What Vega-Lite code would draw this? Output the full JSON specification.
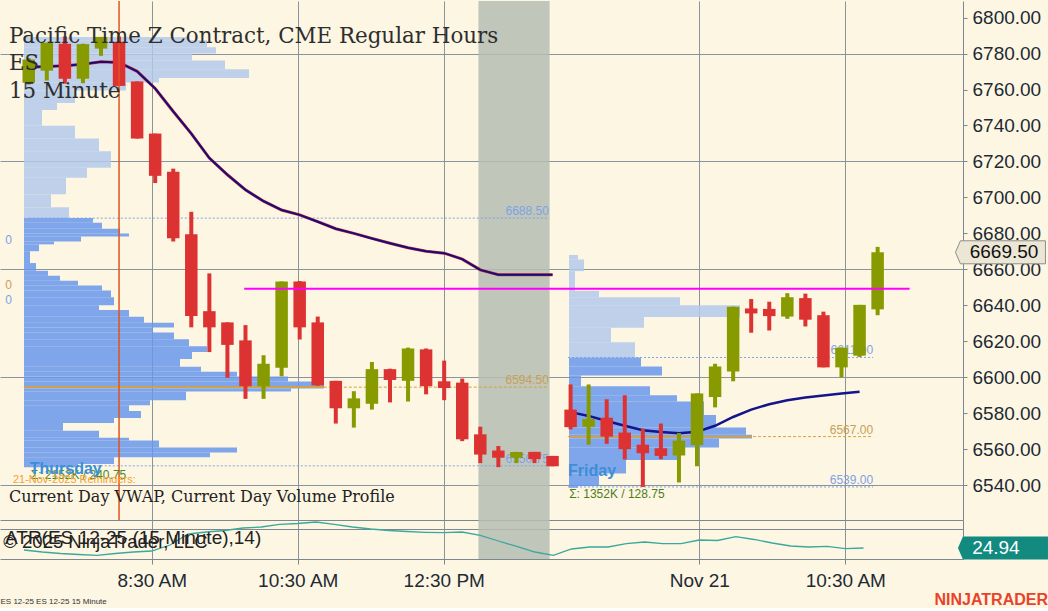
{
"$schema": "https://vega.github.io/schema/vega-lite/v6.json",
"background": "#fdf6e3",
"padding": 0,
"spacing": 0,
"bounds": "flush",
"config": {"view": {"stroke": null}, "font": "Liberation Sans", "axis": {"labelFont": "Liberation Sans", "titleFont": "Liberation Sans"}},
"title": {"text": "NINJATRADER", "orient": "bottom", "anchor": "end", "frame": "bounds", "color": "#e8432a", "fontSize": 16, "fontWeight": "bold", "font": "Liberation Sans", "offset": -13},
"datasets": {
"shade": [{"from": 24.9, "to": 28.8}],
"bars": [
{"i":0,"o":6763.75,"h":6777.5,"l":6762.75,"c":6776.75},
{"i":1,"o":6770.5,"h":6786,"l":6765,"c":6786},
{"i":2,"o":6785.5,"h":6789.5,"l":6763.25,"c":6766},
{"i":3,"o":6766,"h":6785.5,"l":6763.5,"c":6785.25},
{"i":4,"o":6782.75,"h":6789.25,"l":6778.75,"c":6789.25},
{"i":5,"o":6786.5,"h":6789.5,"l":6762,"c":6762},
{"i":6,"o":6764.5,"h":6764.5,"l":6732.75,"c":6732.75},
{"i":7,"o":6735.5,"h":6735.5,"l":6708,"c":6712},
{"i":8,"o":6714.25,"h":6716,"l":6675.5,"c":6677.25},
{"i":9,"o":6679.5,"h":6692,"l":6627.75,"c":6634},
{"i":10,"o":6636.75,"h":6657.75,"l":6614,"c":6627.75},
{"i":11,"o":6630.5,"h":6630.5,"l":6599.75,"c":6618},
{"i":12,"o":6620.5,"h":6629,"l":6588,"c":6595},
{"i":13,"o":6595,"h":6612.25,"l":6588,"c":6607.5},
{"i":14,"o":6605.25,"h":6653.25,"l":6600.5,"c":6653.25},
{"i":15,"o":6653.25,"h":6653.5,"l":6621,"c":6627.75},
{"i":16,"o":6630.5,"h":6633.75,"l":6595.25,"c":6595.5},
{"i":17,"o":6598,"h":6598,"l":6574.25,"c":6582.75},
{"i":18,"o":6582.75,"h":6592.25,"l":6572,"c":6588.25},
{"i":19,"o":6585.25,"h":6608.5,"l":6582,"c":6604.5},
{"i":20,"o":6604.5,"h":6604.75,"l":6586,"c":6598.5},
{"i":21,"o":6598,"h":6616.5,"l":6586.5,"c":6616},
{"i":22,"o":6615.5,"h":6616,"l":6590.5,"c":6595},
{"i":23,"o":6597.75,"h":6609.25,"l":6587.25,"c":6594},
{"i":24,"o":6597,"h":6599.25,"l":6564.5,"c":6565.5},
{"i":25,"o":6568.25,"h":6572.5,"l":6552.25,"c":6557},
{"i":26,"o":6559.25,"h":6561.75,"l":6550,"c":6555.25},
{"i":27,"o":6555.25,"h":6558.5,"l":6552.25,"c":6558.5},
{"i":28,"o":6558.5,"h":6558.5,"l":6552.25,"c":6554.5},
{"i":29,"o":6556.25,"h":6556.25,"l":6550.5,"c":6550.5},
{"i":30,"o":6582,"h":6596,"l":6571,"c":6572.25},
{"i":31,"o":6572.5,"h":6596,"l":6562.5,"c":6576.75},
{"i":32,"o":6577.5,"h":6587.75,"l":6563,"c":6567},
{"i":33,"o":6569.25,"h":6590,"l":6554.25,"c":6560},
{"i":34,"o":6562.5,"h":6571.5,"l":6539,"c":6557.75},
{"i":35,"o":6560.5,"h":6574.25,"l":6554.5,"c":6556.25},
{"i":36,"o":6556.5,"h":6569,"l":6541.5,"c":6564.75},
{"i":37,"o":6562.25,"h":6591,"l":6550.5,"c":6591},
{"i":38,"o":6589,"h":6607.5,"l":6583.25,"c":6606},
{"i":39,"o":6603.25,"h":6639.25,"l":6597.75,"c":6639.25},
{"i":40,"o":6638.25,"h":6643.5,"l":6624.75,"c":6635.5},
{"i":41,"o":6638,"h":6642,"l":6626,"c":6634},
{"i":42,"o":6633.75,"h":6646.75,"l":6632.5,"c":6644.5},
{"i":43,"o":6644,"h":6646.5,"l":6628.25,"c":6632},
{"i":44,"o":6634.5,"h":6636.5,"l":6605.5,"c":6605.5},
{"i":45,"o":6605.5,"h":6616.5,"l":6600,"c":6616.5},
{"i":46,"o":6612,"h":6640.25,"l":6611.25,"c":6640.25},
{"i":47,"o":6637.75,"h":6672.5,"l":6634.5,"c":6669.5}
],
"vwapThu": [
{"i":0,"v":6772.4},{"i":1,"v":6772.8},{"i":2,"v":6773.2},{"i":3,"v":6774},{"i":4,"v":6775.4},{"i":5,"v":6775.1},
{"i":6,"v":6770.1},{"i":7,"v":6760.6},{"i":8,"v":6747.8},{"i":9,"v":6735.5},{"i":10,"v":6721.9},{"i":11,"v":6712.6},
{"i":12,"v":6704.2},{"i":13,"v":6697.9},{"i":14,"v":6693},{"i":15,"v":6690.3},{"i":16,"v":6686.5},{"i":17,"v":6682.6},
{"i":18,"v":6680},{"i":19,"v":6677.2},{"i":20,"v":6674.5},{"i":21,"v":6672},{"i":22,"v":6670.1},{"i":23,"v":6669},
{"i":24,"v":6665.7},{"i":25,"v":6659.7},{"i":26,"v":6657},{"i":27,"v":6657},{"i":28,"v":6657},{"i":29,"v":6657}
],
"vwapFri": [
{"i":30,"v":6580.6},{"i":31,"v":6578.5},{"i":32,"v":6575.7},{"i":33,"v":6573},{"i":34,"v":6570.5},{"i":35,"v":6569.5},
{"i":36,"v":6568.9},{"i":37,"v":6569.7},{"i":38,"v":6573},{"i":39,"v":6577.9},{"i":40,"v":6582},{"i":41,"v":6585},
{"i":42,"v":6587.2},{"i":43,"v":6588.8},{"i":44,"v":6589.9},{"i":45,"v":6591},{"i":46,"v":6591.9}
],
"profThu": [
{"lo":6787.4,"hi":6789.2,"v":55,"zone":"out"},{"lo":6783.5,"hi":6787.4,"v":61,"zone":"out"},{"lo":6780,"hi":6783.5,"v":64,"zone":"out"},
{"lo":6776.2,"hi":6780,"v":56,"zone":"out"},{"lo":6771.3,"hi":6776.2,"v":67,"zone":"out"},{"lo":6766.4,"hi":6771.3,"v":75,"zone":"out"},
{"lo":6763.9,"hi":6766.4,"v":45,"zone":"out"},{"lo":6759.5,"hi":6763.9,"v":34,"zone":"out"},{"lo":6752.5,"hi":6759.5,"v":17,"zone":"out"},
{"lo":6748.6,"hi":6752.5,"v":11,"zone":"out"},{"lo":6739.9,"hi":6748.6,"v":6,"zone":"out"},{"lo":6732.8,"hi":6739.9,"v":17,"zone":"out"},
{"lo":6725.7,"hi":6732.8,"v":25,"zone":"out"},{"lo":6716.5,"hi":6725.7,"v":29,"zone":"out"},{"lo":6711,"hi":6716.5,"v":21,"zone":"out"},
{"lo":6701.7,"hi":6711,"v":14,"zone":"out"},{"lo":6694.6,"hi":6701.7,"v":9,"zone":"out"},{"lo":6688.6,"hi":6694.6,"v":15,"zone":"out"},
{"lo":6685.9,"hi":6688.6,"v":23,"zone":"va"},{"lo":6682.6,"hi":6685.9,"v":26,"zone":"va"},{"lo":6679.9,"hi":6682.6,"v":32,"zone":"va"},
{"lo":6678.3,"hi":6679.9,"v":35,"zone":"va"},{"lo":6675.5,"hi":6678.3,"v":19,"zone":"va"},{"lo":6673.9,"hi":6675.5,"v":10,"zone":"va"},
{"lo":6670.1,"hi":6673.9,"v":5,"zone":"va"},{"lo":6663.5,"hi":6670.1,"v":2,"zone":"va"},{"lo":6659.2,"hi":6663.5,"v":4,"zone":"va"},
{"lo":6656.4,"hi":6659.2,"v":8,"zone":"va"},{"lo":6653.7,"hi":6656.4,"v":12,"zone":"va"},{"lo":6651,"hi":6653.7,"v":18,"zone":"va"},
{"lo":6648.3,"hi":6651,"v":26,"zone":"va"},{"lo":6644.5,"hi":6648.3,"v":29,"zone":"va"},{"lo":6640.1,"hi":6644.5,"v":30,"zone":"va"},
{"lo":6637.4,"hi":6640.1,"v":25,"zone":"va"},{"lo":6633.6,"hi":6637.4,"v":35,"zone":"va"},{"lo":6630.3,"hi":6633.6,"v":40,"zone":"va"},
{"lo":6627.6,"hi":6630.3,"v":50,"zone":"va"},{"lo":6624.9,"hi":6627.6,"v":43,"zone":"va"},{"lo":6621.1,"hi":6624.9,"v":50,"zone":"va"},
{"lo":6617.3,"hi":6621.1,"v":55,"zone":"va"},{"lo":6614,"hi":6617.3,"v":61,"zone":"va"},{"lo":6610.2,"hi":6614,"v":56,"zone":"va"},
{"lo":6605.8,"hi":6610.2,"v":52,"zone":"va"},{"lo":6603.1,"hi":6605.8,"v":59,"zone":"va"},{"lo":6600.4,"hi":6603.1,"v":71,"zone":"va"},
{"lo":6597.6,"hi":6600.4,"v":88,"zone":"va"},{"lo":6593.7,"hi":6597.6,"v":100,"zone":"va"},{"lo":6592.1,"hi":6593.7,"v":89,"zone":"va"},
{"lo":6587.2,"hi":6592.1,"v":54,"zone":"va"},{"lo":6584.5,"hi":6587.2,"v":42,"zone":"va"},{"lo":6581.2,"hi":6584.5,"v":35,"zone":"va"},
{"lo":6577.4,"hi":6581.2,"v":39,"zone":"va"},{"lo":6574.6,"hi":6577.4,"v":30,"zone":"va"},{"lo":6570.3,"hi":6574.6,"v":13,"zone":"va"},
{"lo":6566.4,"hi":6570.3,"v":25,"zone":"va"},{"lo":6564.8,"hi":6566.4,"v":35,"zone":"va"},{"lo":6561,"hi":6564.8,"v":45,"zone":"va"},
{"lo":6558.2,"hi":6561,"v":71,"zone":"va"},{"lo":6555.5,"hi":6558.2,"v":62,"zone":"va"},{"lo":6551.7,"hi":6555.5,"v":30,"zone":"va"},
{"lo":6550,"hi":6551.7,"v":18,"zone":"va"}
],
"profFri": [
{"lo":6665.5,"hi":6668,"v":3,"zone":"out"},{"lo":6659,"hi":6665.5,"v":5,"zone":"out"},{"lo":6648,"hi":6659,"v":2,"zone":"out"},
{"lo":6644.5,"hi":6648,"v":10,"zone":"out"},{"lo":6640,"hi":6644.5,"v":37,"zone":"out"},{"lo":6633.5,"hi":6640,"v":57,"zone":"out"},
{"lo":6627.5,"hi":6633.5,"v":25,"zone":"out"},{"lo":6619.5,"hi":6627.5,"v":14,"zone":"out"},{"lo":6611,"hi":6619.5,"v":22,"zone":"out"},
{"lo":6606,"hi":6611,"v":24,"zone":"va"},{"lo":6601,"hi":6606,"v":31,"zone":"va"},{"lo":6595,"hi":6601,"v":4,"zone":"va"},
{"lo":6590,"hi":6595,"v":27,"zone":"va"},{"lo":6586.5,"hi":6590,"v":36,"zone":"va"},{"lo":6579,"hi":6586.5,"v":45,"zone":"va"},
{"lo":6572,"hi":6579,"v":49,"zone":"va"},{"lo":6568,"hi":6572,"v":59,"zone":"va"},{"lo":6566,"hi":6568,"v":61,"zone":"va"},
{"lo":6561,"hi":6566,"v":50,"zone":"va"},{"lo":6554,"hi":6561,"v":37,"zone":"va"},{"lo":6546.5,"hi":6554,"v":19,"zone":"va"},
{"lo":6539.5,"hi":6546.5,"v":10,"zone":"va"},{"lo":6538.5,"hi":6539.5,"v":3,"zone":"va"}
],
"levels": [
{"kind":"va","p":6688.5,"from":0,"to":28.8,"label":"6688.50"},
{"kind":"poc","p":6594.5,"from":0,"to":28.8,"label":"6594.50"},
{"kind":"va","p":6550.75,"from":0,"to":28.8,"label":"6550.75"},
{"kind":"va","p":6611,"from":29.86,"to":46.75,"label":"6611.00"},
{"kind":"poc","p":6567,"from":29.86,"to":46.75,"label":"6567.00"},
{"kind":"va","p":6539,"from":29.86,"to":46.75,"label":"6539.00"}
],
"atr": [
{"i":0,"a":24.24},{"i":1,"a":23.54},{"i":2,"a":23.02},{"i":3,"a":22.67},{"i":4,"a":22.39},{"i":5,"a":23.02},
{"i":6,"a":23.54},{"i":7,"a":23.89},{"i":8,"a":25.99},{"i":9,"a":29.84},{"i":10,"a":30.54},{"i":11,"a":31.07},
{"i":12,"a":31.94},{"i":13,"a":32.29},{"i":14,"a":33.24},{"i":15,"a":33.52},{"i":16,"a":34.04},{"i":17,"a":33.24},
{"i":18,"a":32.29},{"i":19,"a":31.59},{"i":20,"a":31.07},{"i":21,"a":30.72},{"i":22,"a":30.44},{"i":23,"a":30.3},
{"i":24,"a":30.54},{"i":25,"a":29.39},{"i":26,"a":27.39},{"i":27,"a":25.47},{"i":28,"a":23.54},{"i":29,"a":22.39},
{"i":30,"a":24.59},{"i":31,"a":25.29},{"i":32,"a":25.29},{"i":33,"a":26.45},{"i":34,"a":27.04},{"i":35,"a":26.45},
{"i":36,"a":26.45},{"i":37,"a":27.74},{"i":38,"a":27.57},{"i":39,"a":28.9},{"i":40,"a":27.92},{"i":41,"a":26.69},
{"i":42,"a":25.64},{"i":43,"a":25.29},{"i":44,"a":25.54},{"i":45,"a":24.7},{"i":46,"a":24.94}
]
},
"vconcat": [
{
"width": 963, "height": 519,
"resolve": {"scale": {"x": "independent"}},
"layer": [
{"data": {"name": "shade"},
 "mark": {"type": "rect", "color": "#b5bdb3", "opacity": 0.85},
 "encoding": {
  "x": {"field": "from", "type": "quantitative", "scale": {"domain": [-1.315, 51.45], "nice": false, "zero": false},
        "axis": {"values": [7,15,23,37,45], "tickCount": 20, "labels": false, "ticks": false, "domain": true, "domainColor": "#7d8790", "grid": true, "gridColor": "#8a949c", "gridWidth": 1, "title": null}},
  "x2": {"field": "to"}}},
{"layer": [
 {"data": {"name": "profThu"}, "mark": {"type": "bar", "orient": "horizontal", "opacity": 0.85},
  "encoding": {
   "x": {"field": "v", "type": "quantitative", "scale": {"domain": [-8, 313], "nice": false}, "axis": null},
   "y": {"field": "lo", "type": "quantitative", "scale": {"domain": [6523.4, 6806.45], "nice": false, "zero": false}, "title": null,
         "axis": {"orient": "right", "values": [6540,6560,6580,6600,6620,6640,6660,6680,6700,6720,6740,6760,6780,6800], "tickCount": 30, "format": ".2f", "labelOverlap": false,
                  "labelFontSize": 19, "labelColor": "#1e2a33", "tickSize": 4, "tickColor": "#7d8790", "domainColor": "#7d8790", "labelPadding": 5,
                  "grid": true, "gridColor": "#8a949c", "gridOpacity": {"condition": {"test": "datum.value % 60 === 0", "value": 1}, "value": 0}, "title": null}},
   "y2": {"field": "hi"},
   "color": {"condition": {"test": "datum.zone === 'va'", "value": "#6998eb"}, "value": "#b3c9eb"}}},
 {"data": {"values": [{"lo": 6594, "hi": 6595, "v": 100}]}, "mark": {"type": "bar", "orient": "horizontal", "color": "#d9a23a"},
  "encoding": {"x": {"field": "v", "type": "quantitative", "axis": null}, "y": {"field": "lo", "type": "quantitative", "title": null}, "y2": {"field": "hi"}}}
]},
{"layer": [
 {"data": {"name": "profFri"}, "mark": {"type": "bar", "orient": "horizontal", "opacity": 0.85},
  "encoding": {
   "x": {"field": "v", "type": "quantitative", "scale": {"domain": [-189.67, 131.33], "nice": false}, "axis": null},
   "y": {"field": "lo", "type": "quantitative", "title": null},
   "y2": {"field": "hi"},
   "color": {"condition": {"test": "datum.zone === 'va'", "value": "#6998eb"}, "value": "#b3c9eb"}}},
 {"data": {"values": [{"lo": 6566.5, "hi": 6567.5, "v": 61}]}, "mark": {"type": "bar", "orient": "horizontal", "color": "#d9a23a"},
  "encoding": {"x": {"field": "v", "type": "quantitative", "axis": null}, "y": {"field": "lo", "type": "quantitative", "title": null}, "y2": {"field": "hi"}}}
]},
{"layer": [
 {"data": {"name": "levels"}, "transform": [{"filter": "datum.kind === 'va'"}],
  "mark": {"type": "rule", "color": "#7da2e6", "strokeWidth": 1, "strokeDash": [2, 2]},
  "encoding": {"x": {"field": "from", "type": "quantitative", "scale": {"domain": [-1.315, 51.45], "nice": false, "zero": false}, "axis": null}, "x2": {"field": "to"}, "y": {"field": "p", "type": "quantitative", "title": null}}},
 {"data": {"name": "levels"}, "transform": [{"filter": "datum.kind === 'poc'"}],
  "mark": {"type": "rule", "color": "#d4a040", "strokeWidth": 1, "strokeDash": [3, 2]},
  "encoding": {"x": {"field": "from", "type": "quantitative", "axis": null}, "x2": {"field": "to"}, "y": {"field": "p", "type": "quantitative", "title": null}}},
 {"data": {"name": "levels"},
  "mark": {"type": "text", "align": "right", "baseline": "alphabetic", "dy": -3, "fontSize": 12},
  "encoding": {"x": {"field": "to", "type": "quantitative", "axis": null}, "y": {"field": "p", "type": "quantitative", "title": null}, "text": {"field": "label", "type": "nominal"},
   "color": {"condition": {"test": "datum.kind === 'poc'", "value": "#c9a055"}, "value": "#7da2e6"}}},
 {"data": {"name": "vwapThu"}, "mark": {"type": "line", "color": "#d83030", "strokeWidth": 3},
  "encoding": {"x": {"field": "i", "type": "quantitative", "axis": null}, "y": {"field": "v", "type": "quantitative", "title": null}}},
 {"data": {"name": "vwapThu"}, "mark": {"type": "line", "color": "#0f0f80", "strokeWidth": 2},
  "encoding": {"x": {"field": "i", "type": "quantitative", "axis": null}, "y": {"field": "v", "type": "quantitative", "title": null}}},
 {"data": {"name": "vwapFri"}, "mark": {"type": "line", "color": "#14148c", "strokeWidth": 2.5},
  "encoding": {"x": {"field": "i", "type": "quantitative", "axis": null}, "y": {"field": "v", "type": "quantitative", "title": null}}},
 {"data": {"name": "bars"}, "mark": {"type": "rule", "strokeWidth": 4},
  "encoding": {"x": {"field": "i", "type": "quantitative", "axis": null}, "y": {"field": "l", "type": "quantitative", "title": null}, "y2": {"field": "h"},
   "color": {"condition": {"test": "datum.c >= datum.o", "value": "#879a00"}, "value": "#dd3232"}}},
 {"data": {"name": "bars"}, "mark": {"type": "bar", "width": 12.5, "orient": "vertical"},
  "encoding": {"x": {"field": "i", "type": "quantitative", "axis": null}, "y": {"field": "o", "type": "quantitative", "title": null}, "y2": {"field": "c"},
   "color": {"condition": {"test": "datum.c >= datum.o", "value": "#879a00"}, "value": "#dd3232"}}},
 {"data": {"values": [{"p": 6649.25, "from": 11.93, "to": 48.77}]}, "mark": {"type": "rule", "color": "#ff00ff", "strokeWidth": 2},
  "encoding": {"x": {"field": "from", "type": "quantitative", "axis": null}, "x2": {"field": "to"}, "y": {"field": "p", "type": "quantitative", "title": null}}},
 {"data": {"values": [{"i": 5}]}, "mark": {"type": "rule", "color": "#e0541e", "strokeWidth": 1.5},
  "encoding": {"x": {"field": "i", "type": "quantitative", "axis": null}}},
 {"data": {"values": [{}]}, "mark": {"type": "point", "shape": "M -1 0 L -0.889 -0.2556 L 1 -0.2556 L 1 0.2556 L -0.889 0.2556 Z", "size": 8100, "filled": true, "fill": "#ece6d5", "stroke": "#8e8e8e", "strokeWidth": 1, "opacity": 1},
  "encoding": {"x": {"datum": 53.8, "type": "quantitative", "axis": null}, "y": {"datum": 6669.5, "type": "quantitative", "title": null}}},
 {"data": {"values": [{}]}, "mark": {"type": "text", "text": "6669.50", "align": "left", "baseline": "middle", "fontSize": 19, "color": "#111111"},
  "encoding": {"x": {"datum": 52.1, "type": "quantitative", "axis": null}, "y": {"datum": 6669.5, "type": "quantitative", "title": null}}},
 {"data": {"values": [{}]}, "mark": {"type": "text", "text": "0", "align": "right", "baseline": "middle", "fontSize": 12, "color": "#7da2e6"},
  "encoding": {"x": {"datum": -0.93, "type": "quantitative", "axis": null}, "y": {"datum": 6676.1, "type": "quantitative", "title": null}}},
 {"data": {"values": [{}]}, "mark": {"type": "text", "text": "0", "align": "right", "baseline": "middle", "fontSize": 12, "color": "#c9a055"},
  "encoding": {"x": {"datum": -0.93, "type": "quantitative", "axis": null}, "y": {"datum": 6651.55, "type": "quantitative", "title": null}}},
 {"data": {"values": [{}]}, "mark": {"type": "text", "text": "0", "align": "right", "baseline": "middle", "fontSize": 12, "color": "#7da2e6"},
  "encoding": {"x": {"datum": -0.93, "type": "quantitative", "axis": null}, "y": {"datum": 6642.8, "type": "quantitative", "title": null}}},
 {"data": {"values": [{}]}, "mark": {"type": "text", "text": "Σ: 2152K / 240.75", "align": "left", "baseline": "alphabetic", "fontSize": 12, "color": "#4a8a2a"},
  "encoding": {"x": {"datum": 0.11, "type": "quantitative", "axis": null}, "y": {"datum": 6543.5, "type": "quantitative", "title": null}}},
 {"data": {"values": [{}]}, "mark": {"type": "text", "text": "21-Nov-2025 Reminders:", "align": "left", "baseline": "alphabetic", "fontSize": 11, "color": "#f5a02a"},
  "encoding": {"x": {"datum": -0.877, "type": "quantitative", "axis": null}, "y": {"datum": 6541.4, "type": "quantitative", "title": null}}},
 {"data": {"values": [{}]}, "mark": {"type": "text", "text": "Thursday", "align": "left", "baseline": "alphabetic", "fontSize": 16, "fontWeight": "bold", "color": "#3a8fd8"},
  "encoding": {"x": {"datum": 0.055, "type": "quantitative", "axis": null}, "y": {"datum": 6546.3, "type": "quantitative", "title": null}}},
 {"data": {"values": [{}]}, "mark": {"type": "text", "text": "Friday", "align": "left", "baseline": "alphabetic", "fontSize": 16, "fontWeight": "bold", "color": "#3a8fd8"},
  "encoding": {"x": {"datum": 29.86, "type": "quantitative", "axis": null}, "y": {"datum": 6545.2, "type": "quantitative", "title": null}}},
 {"data": {"values": [{}]}, "mark": {"type": "text", "text": "Σ: 1352K / 128.75", "align": "left", "baseline": "alphabetic", "fontSize": 12, "color": "#4d7d1c"},
  "encoding": {"x": {"datum": 29.92, "type": "quantitative", "axis": null}, "y": {"datum": 6532.6, "type": "quantitative", "title": null}}},
 {"data": {"values": [{}]}, "mark": {"type": "text", "text": "Pacific Time Z Contract, CME Regular Hours", "align": "left", "baseline": "alphabetic", "fontSize": 21.4, "font": "DejaVu Serif", "color": "#2e2e2e"},
  "encoding": {"x": {"datum": -1.1, "type": "quantitative", "axis": null}, "y": {"datum": 6785.9, "type": "quantitative", "title": null}}},
 {"data": {"values": [{}]}, "mark": {"type": "text", "text": "ES", "align": "left", "baseline": "alphabetic", "fontSize": 21.4, "font": "DejaVu Serif", "color": "#2e2e2e"},
  "encoding": {"x": {"datum": -1.1, "type": "quantitative", "axis": null}, "y": {"datum": 6770.6, "type": "quantitative", "title": null}}},
 {"data": {"values": [{}]}, "mark": {"type": "text", "text": "15 Minute", "align": "left", "baseline": "alphabetic", "fontSize": 21.4, "font": "DejaVu Serif", "color": "#2e2e2e"},
  "encoding": {"x": {"datum": -1.1, "type": "quantitative", "axis": null}, "y": {"datum": 6755.4, "type": "quantitative", "title": null}}},
 {"data": {"values": [{}]}, "mark": {"type": "text", "text": "Current Day VWAP, Current Day Volume Profile", "align": "left", "baseline": "alphabetic", "fontSize": 16, "font": "DejaVu Serif", "color": "#222222"},
  "encoding": {"x": {"datum": -1.1, "type": "quantitative", "axis": null}, "y": {"datum": 6530.45, "type": "quantitative", "title": null}}}
]}
]
},
{
"width": 963, "height": 39,
"layer": [
 {"data": {"name": "shade"}, "mark": {"type": "rect", "color": "#b5bdb3", "opacity": 0.85},
  "encoding": {
   "x": {"field": "from", "type": "quantitative", "scale": {"domain": [-1.315, 51.45], "nice": false, "zero": false},
         "axis": {"values": [7,15,23,37,45], "tickCount": 20,
                  "labelExpr": "datum.value == 7 ? '8:30 AM' : datum.value == 15 ? '10:30 AM' : datum.value == 23 ? '12:30 PM' : datum.value == 37 ? 'Nov 21' : '10:30 AM'",
                  "labelFontSize": 19, "labelColor": "#1e2a33", "tickSize": 5, "tickColor": "#7d8790", "domainColor": "#7d8790",
                  "grid": true, "gridColor": "#8a949c", "labelPadding": 7, "labelFlush": false,
                  "title": "ES 12-25 ES 12-25 15 Minute", "titleFontSize": 8, "titleFontWeight": "normal", "titleAnchor": "start", "titleColor": "#333333", "titlePadding": 7}},
   "x2": {"field": "to"}}},
 {"data": {"name": "atr"}, "mark": {"type": "line", "color": "#3aa89e", "strokeWidth": 1.3},
  "encoding": {"x": {"field": "i", "type": "quantitative"},
   "y": {"field": "a", "type": "quantitative", "scale": {"domain": [21.09, 34.74], "nice": false, "zero": false}, "title": null,
         "axis": {"orient": "right", "values": [31.49], "labels": false, "ticks": false, "domain": true, "domainColor": "#7d8790", "grid": true, "gridColor": "#7d8790", "title": null}}}},
 {"data": {"values": [{}]}, "mark": {"type": "point", "shape": "M -1 0 L -0.889 -0.2556 L 1 -0.2556 L 1 0.2556 L -0.889 0.2556 Z", "size": 8100, "filled": true, "fill": "#138a80", "opacity": 1},
  "encoding": {"x": {"datum": 53.64, "type": "quantitative"}, "y": {"datum": 24.94, "type": "quantitative", "title": null}}},
 {"data": {"values": [{}]}, "mark": {"type": "text", "text": "24.94", "align": "left", "baseline": "middle", "fontSize": 19, "color": "#ffffff"},
  "encoding": {"x": {"datum": 51.95, "type": "quantitative"}, "y": {"datum": 24.94, "type": "quantitative", "title": null}}},
 {"data": {"values": [{}]}, "mark": {"type": "text", "text": "ATR(ES 12-25 (15 Minute),14)", "align": "left", "baseline": "alphabetic", "fontSize": 19, "color": "#222222"},
  "encoding": {"x": {"datum": -1.04, "type": "quantitative"}, "y": {"datum": 26.45, "type": "quantitative", "title": null}}},
 {"data": {"values": [{}]}, "mark": {"type": "text", "text": "© 2025 NinjaTrader, LLC", "align": "left", "baseline": "alphabetic", "fontSize": 18.5, "color": "#222222"},
  "encoding": {"x": {"datum": -1.135, "type": "quantitative"}, "y": {"datum": 25.05, "type": "quantitative", "title": null}}}
]
}
]
}
